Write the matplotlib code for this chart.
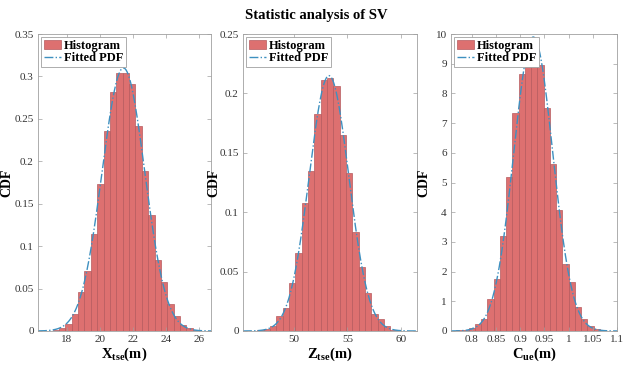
import matplotlib
matplotlib.use('Agg')
import matplotlib.pyplot as plt
import numpy as np
from matplotlib.ticker import FormatStrFormatter

plt.rcParams['font.family'] = 'Liberation Serif'
plt.rcParams['mathtext.fontset'] = 'custom'
plt.rcParams['mathtext.rm'] = 'Liberation Serif'
plt.rcParams['mathtext.bf'] = 'Liberation Serif:bold'

# X_tse histogram (bin start, bin width, normalised heights) and fitted normal
x_start, x_width = 17.15, 0.385
x_heights = [0.001, 0.003, 0.008, 0.020, 0.046, 0.071, 0.114, 0.173, 0.236, 0.282,
             0.304, 0.304, 0.291, 0.241, 0.189, 0.137, 0.084, 0.058, 0.032, 0.018,
             0.007, 0.003, 0.001]
x_mu, x_sigma = 21.43, 1.287

# Z_tse
z_start, z_width = 45.97, 0.593
z_heights = [0.0003, 0.001, 0.002, 0.004, 0.013, 0.019, 0.040, 0.066, 0.108, 0.135,
             0.183, 0.211, 0.213, 0.206, 0.165, 0.133, 0.083, 0.0535, 0.032, 0.014,
             0.010, 0.004, 0.001, 0.0003]
z_mu, z_sigma = 53.28, 1.856

# C_ue
c_start, c_width = 0.7678, 0.0129
c_heights = [0.02, 0.05, 0.11, 0.25, 0.40, 1.09, 1.74, 3.19, 5.17, 7.33,
             8.64, 9.38, 9.88, 8.96, 7.50, 5.62, 4.09, 2.26, 1.65, 0.81,
             0.39, 0.17, 0.08, 0.03]
c_mu, c_sigma = 0.927, 0.0403

panels = [
    (x_start, x_width, x_heights, x_mu, x_sigma, r'$\mathbf{X_{tse}}$(m)',
     (16.27, 26.72), [18, 20, 22, 24, 26], (0, 0.35), np.arange(0, 0.351, 0.05)),
    (z_start, z_width, z_heights, z_mu, z_sigma, r'$\mathbf{Z_{tse}}$(m)',
     (45.22, 61.53), [50, 55, 60], (0, 0.25), np.arange(0, 0.251, 0.05)),
    (c_start, c_width, c_heights, c_mu, c_sigma, r'$\mathbf{C_{ue}}$(m)',
     (0.757, 1.1), [0.8, 0.85, 0.9, 0.95, 1, 1.05, 1.1], (0, 10), np.arange(0, 11, 1)),
]

fig = plt.figure(figsize=(6.25, 3.69), dpi=100)
lefts = [38, 243, 451]
widths = [173, 174, 166]
ylab_x = [-0.145, -0.132, -0.126]

for i, (start, w, h, mu, sg, xl, xlim, xt, ylim, yt) in enumerate(panels):
    ax = fig.add_axes([lefts[i] / 625, 1 - 331 / 369, widths[i] / 625, 297 / 369])
    edges = start + w * np.arange(len(h))
    bars = ax.bar(edges, h, width=w, align='edge', color='#dd7070', edgecolor='#b65a5e',
                  linewidth=0.5, label='Histogram')
    xs = np.linspace(xlim[0], xlim[1], 300)
    pdf = np.exp(-0.5 * ((xs - mu) / sg) ** 2) / (sg * np.sqrt(2 * np.pi))
    line, = ax.plot(xs, pdf, linestyle='-.', color='#3e90c0', linewidth=1.0,
                    label='Fitted PDF')
    ax.set_xlim(xlim)
    ax.set_ylim(ylim)
    ax.set_xticks(xt)
    ax.set_yticks(yt)
    ax.xaxis.set_major_formatter(FormatStrFormatter('%g'))
    ax.yaxis.set_major_formatter(FormatStrFormatter('%g'))
    ax.tick_params(direction='in', length=3, width=0.5, colors='#a0a0a0',
                   labelcolor='#333333', labelsize=8, top=True, right=True, pad=3)
    for s in ax.spines.values():
        s.set_color('#a0a0a0')
        s.set_linewidth(0.6)
    ax.set_xlabel(xl, fontsize=10.5, fontweight='bold', labelpad=1)
    ax.set_ylabel('CDF', fontsize=10, fontweight='bold')
    ax.yaxis.set_label_coords(ylab_x[i], 0.5)
    leg = ax.legend([bars, line], ['Histogram', 'Fitted PDF'], loc='upper left',
                    prop={'weight': 'bold', 'size': 9},
                    fancybox=False, borderpad=0.2, labelspacing=0.05,
                    handlelength=1.4, handletextpad=0.25, borderaxespad=0.25,
                    framealpha=1)
    leg.get_frame().set_edgecolor('#a0a0a0')
    leg.get_frame().set_linewidth(0.6)

fig.text(0.506, 1 - 15 / 369, 'Statistic analysis of SV', ha='center', va='center',
         fontsize=10.5, fontweight='bold')

fig.savefig('out.png', dpi=100)
